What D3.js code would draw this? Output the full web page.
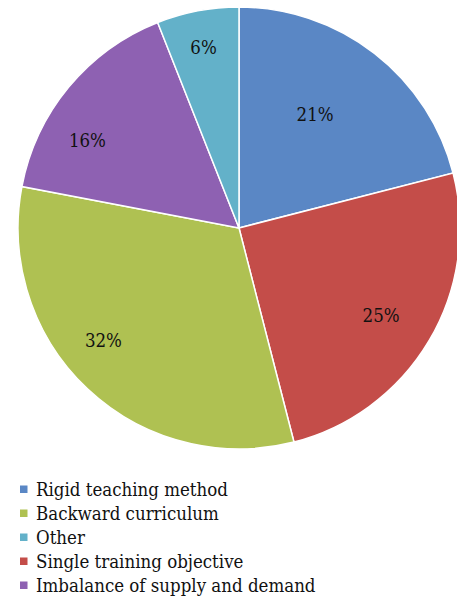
<!DOCTYPE html>
<html>
<head>
<meta charset="utf-8">
<script src="https://cdn.jsdelivr.net/npm/d3@7"></script>
<style>
  body { margin: 0; background: #fff; }
  svg { display: block; }
  text { font-family: "DejaVu Serif", serif; font-stretch: condensed; }
</style>
</head>
<body>
<svg id="chart" width="457" height="597"></svg>
<script>
// slices, clockwise from 12 o'clock
const categories = ["Rigid teaching method", "Single training objective", "Backward curriculum", "Imbalance of supply and demand", "Other"];
const values = [21, 25, 32, 16, 6];
const colors = ["#5a87c5", "#c44d49", "#afc152", "#8e61b2", "#63b1c9"];
// legend lists them in another order
const legendOrder = ["Rigid teaching method", "Backward curriculum", "Other", "Single training objective", "Imbalance of supply and demand"];

const svg = d3.select('#chart');
const cx = 239, cy = 228, radius = 221;
// label placement per slice (excel "best fit"): share of slice angle and distance from centre
const labelFrac = [0.446, 0.512, 0.5625, 0.333, 0.486];
const labelR = [137, 167, 176, 175, 184];

const color = d3.scaleOrdinal().domain(categories).range(colors);

const pie = d3.pie().sort(null).value(function (d) { return d.value; });
const data = categories.map(function (c, i) { return {name: c, value: values[i]}; });
const arcs = pie(data);

const arc = d3.arc().innerRadius(0).outerRadius(radius);

const chart = svg.append('g')
    .attr('transform', 'translate(' + cx + ',' + cy + ')');

chart.selectAll('path')
    .data(arcs)
    .enter()
    .append('path')
    .attr('d', arc)
    .attr('fill', function (d) { return color(d.data.name); })
    .attr('stroke', '#fff')
    .attr('stroke-width', 1.5);

chart.selectAll('.label')
    .data(arcs)
    .enter()
    .append('text')
    .attr('class', 'label')
    .attr('font-size', 18.5)
    .attr('fill', '#111')
    .attr('text-anchor', 'middle')
    .attr('dominant-baseline', 'central')
    .attr('transform', function (d, i) {
        const a = d.startAngle + (d.endAngle - d.startAngle) * labelFrac[i];
        const r = labelR[i];
        return 'translate(' + (r * Math.sin(a)) + ',' + (-r * Math.cos(a)) + ')';
    })
    .text(function (d) { return d.data.value + '%'; });

const legendY = d3.scaleBand().domain(legendOrder).range([477, 597]);

const legend = svg.append('g').attr('class', 'legend');
const rows = legend.selectAll('g')
    .data(legendOrder)
    .enter()
    .append('g')
    .attr('transform', function (d) { return 'translate(0,' + (legendY(d) + legendY.bandwidth() / 2) + ')'; });

rows.append('rect')
    .attr('x', 20)
    .attr('y', -3.5)
    .attr('width', 7.5)
    .attr('height', 7.5)
    .attr('fill', function (d) { return color(d); });

rows.append('text')
    .attr('x', 36)
    .attr('y', 0)
    .attr('font-size', 18.5)
    .attr('fill', '#111')
    .attr('dominant-baseline', 'central')
    .text(function (d) { return d; });
</script>
</body>
</html>
